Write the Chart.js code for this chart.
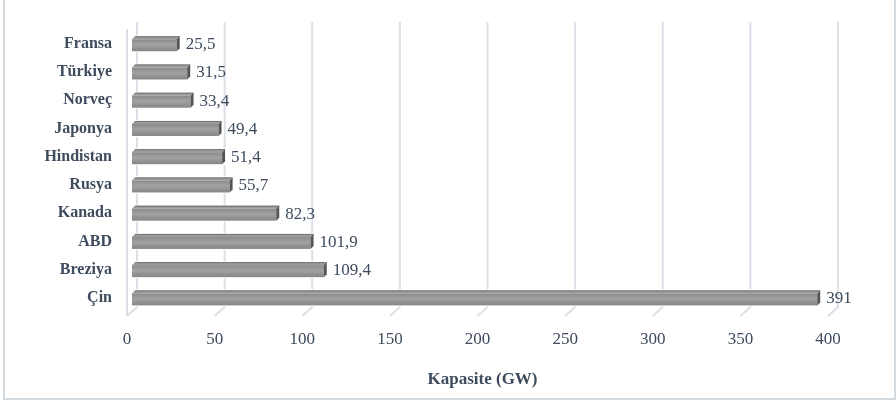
<!DOCTYPE html>
<html>
<head>
<meta charset="utf-8">
<script src="https://cdn.jsdelivr.net/npm/chart.js@4"></script>
<style>
  html, body { margin: 0; padding: 0; background: #fff; }
  #wrap { width: 896px; height: 404px; position: relative; }
</style>
</head>
<body>
<div id="wrap"><canvas id="capChart"></canvas></div>
<script>
const countries = ['Fransa','Türkiye','Norveç','Japonya','Hindistan','Rusya','Kanada','ABD','Breziya','Çin'];
const capacity = [25.5, 31.5, 33.4, 49.4, 51.4, 55.7, 82.3, 101.9, 109.4, 391];
const xTicks = [0, 50, 100, 150, 200, 250, 300, 350, 400];

const textColor = '#3d4b5c';
const gridColor = '#dbe1e7';
const serif = '"Liberation Serif", "Times New Roman", serif';

// light frame around the whole chart
const framePlugin = {
  id: 'frame',
  beforeDraw(chart) {
    const c = chart.ctx;
    c.save();
    c.strokeStyle = '#d3dbe1';
    c.lineWidth = 2;
    c.strokeRect(4, -2, 891, 401);
    c.restore();
  }
};

// 3d-ish walls: back gridlines + floor diagonals
const wallPlugin = {
  id: 'walls',
  beforeDatasetsDraw(chart) {
    const c = chart.ctx;
    const sx = chart.scales.x;
    c.save();
    c.strokeStyle = gridColor;
    c.lineWidth = 2;
    xTicks.forEach(v => {
      const p = sx.getPixelForValue(v);
      c.beginPath();
      c.moveTo(p + 5, 22);
      c.lineTo(p + 5, 307);
      c.lineTo(p - 5, 316);
      c.stroke();
    });
    const p0 = sx.getPixelForValue(0);
    c.beginPath();
    c.moveTo(p0 - 5, 29);
    c.lineTo(p0 - 5, 316);
    c.stroke();
    c.restore();
  }
};

// shading for bars + value labels
const barPlugin = {
  id: 'bars3d',
  afterDatasetsDraw(chart) {
    const c = chart.ctx;
    const meta = chart.getDatasetMeta(0);
    c.save();
    meta.data.forEach((el, i) => {
      const { x, y, base, height } = el.getProps(['x', 'y', 'base', 'height'], true);
      const top = y - height / 2, bot = y + height / 2;
      const d = 3;
      // front face
      const g = c.createLinearGradient(0, top + d, 0, bot);
      g.addColorStop(0, '#8a8a8a');
      g.addColorStop(0.45, '#a2a2a2');
      g.addColorStop(1, '#858585');
      c.fillStyle = '#ffffff';
      c.fillRect(base - 1, top - 1, x - base + d + 3, height + 2);
      c.fillStyle = g;
      c.fillRect(base, top + d, x - base, height - d);
      // top face
      c.fillStyle = '#9a9a9a';
      c.beginPath();
      c.moveTo(base, top + d);
      c.lineTo(base + d, top);
      c.lineTo(x + d, top);
      c.lineTo(x, top + d);
      c.closePath();
      c.fill();
      c.strokeStyle = '#737373';
      c.lineWidth = 1;
      c.beginPath();
      c.moveTo(base + d, top + 0.5);
      c.lineTo(x + d, top + 0.5);
      c.stroke();
      // end cap
      c.fillStyle = '#555555';
      c.beginPath();
      c.moveTo(x, top + d);
      c.lineTo(x + d, top);
      c.lineTo(x + d, bot - d);
      c.lineTo(x, bot);
      c.closePath();
      c.fill();
      // value
      c.fillStyle = textColor;
      c.font = '17px ' + serif;
      c.textAlign = 'left';
      c.textBaseline = 'middle';
      c.fillText(String(capacity[i]).replace('.', ','), x + d + 6, y + 1);
    });
    c.restore();
  }
};

new Chart(document.getElementById('capChart'), {
  type: 'bar',
  data: {
    labels: countries,
    datasets: [{
      label: 'Kapasite (GW)',
      data: capacity,
      backgroundColor: '#999999',
      barThickness: 15
    }]
  },
  options: {
    indexAxis: 'y',
    responsive: true,
    maintainAspectRatio: false,
    animation: false,
    layout: { padding: { top: 28, right: 63, bottom: 8, left: 0 } },
    plugins: {
      legend: { display: false },
      tooltip: { enabled: false }
    },
    scales: {
      x: {
        min: 0,
        max: 400,
        afterBuildTicks: s => { s.ticks = xTicks.map(v => ({ value: v })); },
        afterFit: s => { s.height = 84; },
        grid: { display: false, drawTicks: false },
        border: { display: false },
        ticks: {
          color: textColor,
          font: { family: serif, size: 17 },
          padding: 17,
          labelOffset: -5,
          maxRotation: 0
        },
        title: {
          display: true,
          text: 'Kapasite (GW)',
          color: textColor,
          font: { family: serif, size: 17, weight: 'bold' },
          padding: { top: 0, bottom: 6 }
        }
      },
      y: {
        afterFit: s => { s.width = 132; },
        grid: { display: false, drawTicks: false },
        border: { display: false },
        ticks: {
          color: textColor,
          font: { family: serif, size: 16, weight: 'bold' },
          padding: 20
        }
      }
    }
  },
  plugins: [framePlugin, wallPlugin, barPlugin]
});
</script>
</body>
</html>
